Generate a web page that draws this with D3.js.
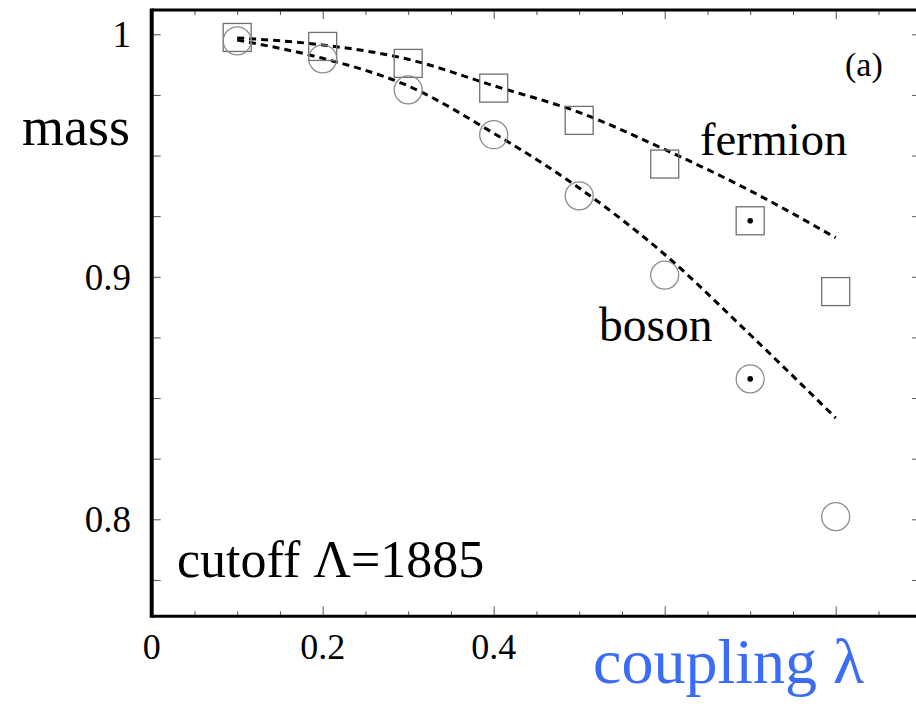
<!DOCTYPE html>
<html>
<head>
<meta charset="utf-8">
<script src="https://cdn.jsdelivr.net/npm/d3@7"></script>
<style>
  html, body { margin: 0; padding: 0; background: #fff; }
  svg { display: block; }
  text { font-family: "Liberation Serif", "Times New Roman", serif; fill: #000; }
</style>
</head>
<body>
<svg id="chart" width="916" height="707"></svg>
<script>
// coupling values where the masses were computed
const lambdas = [0.1, 0.2, 0.3, 0.4, 0.5, 0.6, 0.7, 0.8];
// computed masses (markers)
const fermionMass = [0.9987, 0.9950, 0.9880, 0.9778, 0.9645, 0.9465, 0.9231, 0.8939];
const bosonMass   = [0.9973, 0.9899, 0.9771, 0.9586, 0.9334, 0.9007, 0.8579, 0.8011];
// perturbative estimates (dashed curves)
const fermionCurve = [0.9985, 0.9956, 0.9897, 0.9788, 0.9678, 0.9525, 0.9355, 0.9161];
const bosonCurve   = [0.9976, 0.9901, 0.9787, 0.9592, 0.9366, 0.9092, 0.8761, 0.8418];
// points marked with a central dot
const dottedLambdas = [0.7];
// axis ticks
const xTickLabels = [0, 0.2, 0.4];
const xMajorTicks = [0.2, 0.4, 0.6, 0.8];
const xMinorTicks = [0.05, 0.1, 0.15, 0.25, 0.3, 0.35, 0.45, 0.5, 0.55, 0.65, 0.7, 0.75, 0.85];
const yTicks = [0.775, 0.8, 0.825, 0.85, 0.875, 0.9, 0.925, 0.95, 0.975, 1.0];
const yTickLabels = [0.8, 0.9, 1];

const svg = d3.select("#chart");
const plotLeft = 151.7, plotRight = 921.2, plotTop = 10.05, plotBottom = 616.3;

const x = d3.scaleLinear().domain([0, 0.9]).range([plotLeft, plotRight]);
const y = d3.scaleLinear().domain([0.76, 1.01]).range([plotBottom, plotTop]);

// inward ticks on all four sides
const tickStyle = g => g.call(s => s.select(".domain").remove())
  .call(s => s.selectAll(".tick line").attr("stroke", "#555").attr("stroke-width", 1));

svg.append("g").attr("transform", `translate(0,${plotBottom})`)
  .call(d3.axisBottom(x).tickValues(xMajorTicks).tickSize(-10).tickFormat(""))
  .call(tickStyle);
svg.append("g").attr("transform", `translate(0,${plotBottom})`)
  .call(d3.axisBottom(x).tickValues(xMinorTicks).tickSize(-5).tickFormat(""))
  .call(tickStyle);
svg.append("g").attr("transform", `translate(0,${plotTop})`)
  .call(d3.axisTop(x).tickValues(xMajorTicks).tickSize(-9).tickFormat(""))
  .call(tickStyle);
svg.append("g").attr("transform", `translate(0,${plotTop})`)
  .call(d3.axisTop(x).tickValues(xMinorTicks).tickSize(-5).tickFormat(""))
  .call(tickStyle);
svg.append("g").attr("transform", `translate(${plotLeft},0)`)
  .call(d3.axisLeft(y).tickValues(yTicks).tickSize(-9).tickFormat(""))
  .call(tickStyle);
svg.append("g").attr("transform", `translate(${plotRight},0)`)
  .call(d3.axisRight(y).tickValues(yTicks).tickSize(-9).tickFormat(""))
  .call(tickStyle);

// frame
svg.append("line").attr("x1", plotLeft).attr("x2", plotRight + 2).attr("y1", plotTop).attr("y2", plotTop)
  .attr("stroke", "#000").attr("stroke-width", 3);
svg.append("line").attr("x1", plotLeft).attr("x2", plotRight + 2).attr("y1", plotBottom).attr("y2", plotBottom)
  .attr("stroke", "#000").attr("stroke-width", 3);
svg.append("line").attr("x1", plotLeft).attr("x2", plotLeft).attr("y1", plotTop - 1.5).attr("y2", plotBottom + 1.5)
  .attr("stroke", "#000").attr("stroke-width", 4);
svg.append("line").attr("x1", plotRight).attr("x2", plotRight).attr("y1", plotTop - 1.5).attr("y2", plotBottom + 1.5)
  .attr("stroke", "#000").attr("stroke-width", 3);

// tick labels
svg.append("g").selectAll("text").data(xTickLabels).join("text")
  .attr("x", d => x(d)).attr("y", 659)
  .attr("text-anchor", "middle").attr("font-size", 36)
  .text(d => d === 0 ? "0" : d3.format(".1f")(d));
svg.append("g").selectAll("text").data(yTickLabels).join("text")
  .attr("x", 131).attr("y", d => y(d) + 13)
  .attr("text-anchor", "end").attr("font-size", 37)
  .text(d => d === 1 ? "1" : d3.format(".1f")(d));

// dashed curves
const line = d3.line().x(d => x(d[0])).y(d => y(d[1])).curve(d3.curveMonotoneX);
[fermionCurve, bosonCurve].forEach(vals => {
  svg.append("path")
    .datum(lambdas.map((l, i) => [l, vals[i]]))
    .attr("d", line)
    .attr("fill", "none").attr("stroke", "#000")
    .attr("stroke-width", 3).attr("stroke-dasharray", "7,5");
});

// fermion markers: open squares
const side = 28;
svg.append("g").selectAll("rect").data(lambdas.map((l, i) => [l, fermionMass[i]])).join("rect")
  .attr("x", d => x(d[0]) - side / 2).attr("y", d => y(d[1]) - side / 2)
  .attr("width", side).attr("height", side)
  .attr("fill", "none").attr("stroke", "#707070").attr("stroke-width", 1.3);

// boson markers: open circles
svg.append("g").selectAll("circle").data(lambdas.map((l, i) => [l, bosonMass[i]])).join("circle")
  .attr("cx", d => x(d[0])).attr("cy", d => y(d[1])).attr("r", 14)
  .attr("fill", "none").attr("stroke", "#8c8c8c").attr("stroke-width", 1.3);

// central dots
const dotted = [];
lambdas.forEach((l, i) => {
  if (dottedLambdas.includes(l)) {
    dotted.push([l, fermionMass[i]], [l, bosonMass[i]]);
  }
});
svg.append("g").selectAll("circle").data(dotted).join("circle")
  .attr("cx", d => x(d[0])).attr("cy", d => y(d[1])).attr("r", 2.8).attr("fill", "#000");

// annotations
svg.append("text").attr("x", 22).attr("y", 145).attr("font-size", 54).text("mass");
svg.append("text").attr("x", 845).attr("y", 76).attr("font-size", 34).text("(a)");
svg.append("text").attr("x", 700).attr("y", 155).attr("font-size", 46.5).text("fermion");
svg.append("text").attr("x", 599).attr("y", 341).attr("font-size", 47.5).text("boson");
svg.append("text").attr("x", 177).attr("y", 577).attr("font-size", 52).text("cutoff \u039B=1885");
svg.append("text").attr("x", 593).attr("y", 683).attr("font-size", 64)
  .style("fill", "#3b6cf5").text("coupling \u03BB");
</script>
</body>
</html>
